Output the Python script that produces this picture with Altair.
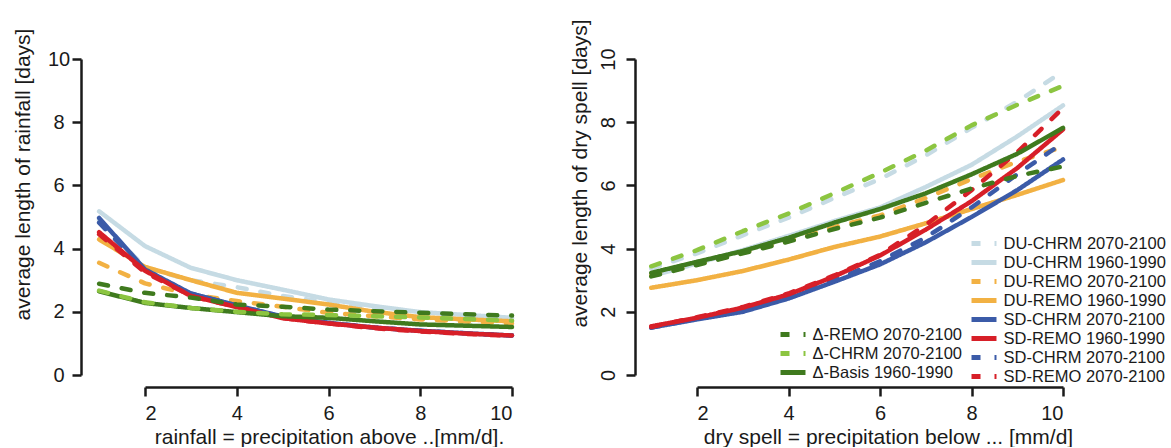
import altair as alt
import pandas as pd

# ---------------- data ----------------
x_vals = [1, 2, 3, 4, 5, 6, 7, 8, 9, 10]

series_keys = ["DU-CHRM 2070-2100", "DU-CHRM 1960-1990", "DU-REMO 2070-2100",
               "DU-REMO 1960-1990", "SD-CHRM 1960-1990", "SD-REMO 1960-1990",
               "SD-CHRM 2070-2100", "SD-REMO 2070-2100"]
delta_keys = ["Δ-REMO 2070-2100", "Δ-CHRM 2070-2100", "Δ-Basis 1960-1990"]

# left panel: average length of rainfall [days]
rain = {
    "DU-CHRM 1960-1990": [5.18, 4.08, 3.39, 3.00, 2.70, 2.39, 2.18, 1.99, 1.90, 1.81],
    "DU-CHRM 2070-2100": [4.90, 3.40, 3.00, 2.78, 2.50, 2.30, 2.10, 1.95, 1.85, 1.78],
    "DU-REMO 2070-2100": [3.55, 2.90, 2.55, 2.34, 2.16, 1.97, 1.86, 1.76, 1.69, 1.63],
    "DU-REMO 1960-1990": [4.29, 3.42, 3.00, 2.60, 2.42, 2.23, 2.00, 1.83, 1.76, 1.70],
    "SD-CHRM 1960-1990": [4.97, 3.34, 2.58, 2.20, 1.85, 1.65, 1.50, 1.40, 1.32, 1.25],
    "SD-CHRM 2070-2100": [4.82, 3.32, 2.57, 2.20, 1.84, 1.65, 1.50, 1.40, 1.32, 1.25],
    "SD-REMO 1960-1990": [4.52, 3.30, 2.50, 2.15, 1.80, 1.63, 1.50, 1.39, 1.31, 1.25],
    "SD-REMO 2070-2100": [4.45, 3.25, 2.50, 2.15, 1.80, 1.63, 1.48, 1.38, 1.30, 1.24],
    "Δ-REMO 2070-2100": [2.89, 2.60, 2.45, 2.23, 2.16, 2.07, 2.02, 1.97, 1.92, 1.88],
    "Δ-CHRM 2070-2100": [2.67, 2.30, 2.12, 2.00, 1.92, 1.90, 1.86, 1.82, 1.77, 1.72],
    "Δ-Basis 1960-1990": [2.65, 2.28, 2.12, 1.99, 1.86, 1.81, 1.70, 1.60, 1.56, 1.52],
}

# right panel: average length of dry spell [days]
dry = {
    "DU-CHRM 2070-2100": [3.37, 3.85, 4.42, 4.98, 5.60, 6.20, 6.95, 7.82, 8.65, 9.61],
    "DU-CHRM 1960-1990": [3.13, 3.53, 3.95, 4.40, 4.87, 5.30, 5.95, 6.65, 7.55, 8.53],
    "DU-REMO 2070-2100": [3.15, 3.50, 3.87, 4.24, 4.68, 5.05, 5.60, 6.20, 6.75, 7.22],
    "DU-REMO 1960-1990": [2.76, 3.00, 3.29, 3.65, 4.05, 4.38, 4.80, 5.25, 5.70, 6.17],
    "SD-CHRM 1960-1990": [1.50, 1.76, 2.00, 2.42, 2.95, 3.50, 4.20, 5.00, 5.85, 6.82],
    "SD-CHRM 2070-2100": [1.50, 1.78, 2.03, 2.45, 3.00, 3.60, 4.35, 5.30, 6.35, 7.35],
    "SD-REMO 1960-1990": [1.54, 1.81, 2.13, 2.55, 3.12, 3.78, 4.60, 5.50, 6.55, 7.77],
    "SD-REMO 2070-2100": [1.52, 1.83, 2.15, 2.58, 3.15, 3.80, 4.75, 5.85, 7.05, 8.45],
    "Δ-REMO 2070-2100": [3.12, 3.48, 3.85, 4.22, 4.62, 4.98, 5.45, 5.90, 6.30, 6.60],
    "Δ-CHRM 2070-2100": [3.44, 3.95, 4.55, 5.11, 5.75, 6.40, 7.10, 7.90, 8.55, 9.15],
    "Δ-Basis 1960-1990": [3.23, 3.58, 3.92, 4.34, 4.82, 5.25, 5.75, 6.35, 7.00, 7.82],
}

x_ticks = [2, 4, 6, 8, 10]
y_ticks = [0, 2, 4, 6, 8, 10]

# ---------------- styles ----------------
LB, OR, BL, RD, DG, LM = "#c6dbe4", "#f2b143", "#3b5ba8", "#d71f28", "#3f7a1e", "#8cc541"
DASH, SOLID = [9, 14], [1, 0]
series_colors = [LB, LB, OR, OR, BL, RD, BL, RD]
series_dashes = [DASH, SOLID, DASH, SOLID, SOLID, SOLID, DASH, DASH]
delta_colors = [DG, LM, DG]
delta_dashes = [DASH, DASH, SOLID]

draw_main = ["DU-CHRM 1960-1990", "DU-CHRM 2070-2100", "DU-REMO 2070-2100",
             "DU-REMO 1960-1990", "SD-CHRM 1960-1990", "SD-CHRM 2070-2100",
             "SD-REMO 1960-1990", "SD-REMO 2070-2100"]
draw_delta = ["Δ-Basis 1960-1990", "Δ-REMO 2070-2100", "Δ-CHRM 2070-2100"]

FONT = "Liberation Sans"


def to_df(d):
    rows = []
    for k, vals in d.items():
        grp = "delta" if k.startswith("Δ") else "main"
        for x, y in zip(x_vals, vals):
            rows.append({"x": x, "y": y, "key": k, "grp": grp})
    return pd.DataFrame(rows)


def make_legend(lx, ly):
    return alt.Legend(orient="none", legendX=lx, legendY=ly, title=None,
                      symbolType="M-2,0H2", symbolSize=156, symbolStrokeWidth=5,
                      labelFont=FONT, labelFontSize=16.5, labelColor="#1a1a1a",
                      labelOffset=10.5, labelLimit=400, rowPadding=-3.5, padding=0,
                      labelExpr="datum.label == 'SD-CHRM 1960-1990' ? 'SD-CHRM 2070-2100' : datum.label")


def panel(d, xtitle, ytitle, right, w):
    df = to_df(d)
    xaxis = alt.Axis(values=x_ticks, format="d", offset=12, tickSize=9, labelPadding=7,
                     title=xtitle, titleX=(191 if right else 184), titleY=56,
                     titleAlign="center", titleBaseline="alphabetic")
    if right:
        yaxis = alt.Axis(values=y_ticks, offset=62, tickSize=9, labelAngle=270,
                         labelAlign="center", labelBaseline="middle", labelPadding=18,
                         title=ytitle, titleAngle=270, titleX=-48.5, titleY=114,
                         titleAlign="center", titleBaseline="alphabetic")
    else:
        yaxis = alt.Axis(values=y_ticks, offset=64, tickSize=9, labelAngle=0,
                         labelAlign="center", labelBaseline="middle", labelPadding=13.5,
                         title=ytitle, titleAngle=270, titleX=-51.5, titleY=115,
                         titleAlign="center", titleBaseline="alphabetic")
    xs = alt.X("x:Q", scale=alt.Scale(domain=[2, 10], nice=False, zero=False), axis=xaxis)
    ys = alt.Y("y:Q", scale=alt.Scale(domain=[0, 10], nice=False, zero=True), axis=yaxis)

    def group(keys, draw, colors, dashes, leg):
        layers = []
        for k in draw:
            layers.append(
                alt.Chart(df).transform_filter(alt.datum.key == k)
                .mark_line(strokeWidth=4.5, strokeCap="round", strokeJoin="round")
                .encode(
                    x=xs, y=ys,
                    color=alt.Color("key:N", scale=alt.Scale(domain=keys, range=colors), legend=leg),
                    strokeDash=alt.StrokeDash("key:N", scale=alt.Scale(domain=keys, range=dashes), legend=leg),
                )
            )
        return alt.layer(*layers)

    leg_main = make_legend(278, 175.5) if right else None
    leg_delta = make_legend(87, 266.5) if right else None
    g1 = group(series_keys, draw_main, series_colors, series_dashes, leg_main)
    g2 = group(delta_keys, draw_delta, delta_colors, delta_dashes, leg_delta)
    return alt.layer(g1, g2).resolve_scale(color="independent", strokeDash="independent").properties(width=w, height=316)


left = panel(rain, "rainfall = precipitation above ..[mm/d].", "average length of rainfall [days]", False, 367)
right = panel(dry, "dry spell = precipitation below ... [mm/d]", "average length of dry spell [days]", True, 366)

chart = (
    alt.hconcat(left, right, spacing=54)
    .resolve_scale(color="independent", strokeDash="independent")
    .properties(padding={"left": 12, "top": 18, "right": 0, "bottom": 0}, background="white")
    .configure_view(stroke=None)
    .configure_axis(grid=False, domainColor="#1a1a1a", domainWidth=2.5, tickColor="#1a1a1a",
                    tickWidth=2.5, labelFont=FONT, labelFontSize=20, labelColor="#1a1a1a",
                    titleFont=FONT, titleFontSize=21, titleFontWeight="normal", titleColor="#1a1a1a")
)

chart.save("out.html", embed_options={"renderer": "svg", "actions": False})
